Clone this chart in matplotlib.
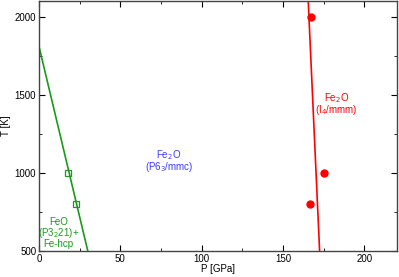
import matplotlib
matplotlib.use("Agg")
import matplotlib.pyplot as plt
from matplotlib.ticker import MultipleLocator

plt.rcParams['font.family'] = ['Liberation Sans', 'DejaVu Sans']

# phase boundaries (P [GPa], T [K])
feo_line_p = [0, 30]
feo_line_t = [1810, 500]
feo_pts_p = [18, 23]
feo_pts_t = [1000, 800]

fe2o_line_p = [165.5, 172.5]
fe2o_line_t = [2100, 500]
fe2o_pts_p = [167.5, 175.5, 166.5]
fe2o_pts_t = [2000, 1000, 800]

green = '#1a9a1a'
red = '#ff0000'
blue = '#3b3bff'

fig = plt.figure(figsize=(3.99, 2.77), dpi=100)
ax = fig.add_axes([0.0977, 0.094, 0.897, 0.902])

ax.plot(feo_line_p, feo_line_t, color=green, lw=1.2)
ax.plot(feo_pts_p, feo_pts_t, ls='none', marker='s', ms=5, mfc='none', mec=green, mew=0.9)
ax.plot(fe2o_line_p, fe2o_line_t, color=red, lw=1.2)
ax.plot(fe2o_pts_p, fe2o_pts_t, ls='none', marker='o', ms=5, color=red)

ax.text(80, 1075, 'Fe$_2$O\n(P6$_3$/mmc)', color=blue, fontsize=7, ha='center', va='center', linespacing=0.85)
ax.text(183, 1440, 'Fe$_2$O\n(I$_4$/mmm)', color=red, fontsize=7, ha='center', va='center', linespacing=0.85)
ax.text(12, 615, 'FeO\n(P3$_2$21)+\nFe-hcp', color=green, fontsize=7, ha='center', va='center', linespacing=0.85)

ax.set_xlim(0, 220)
ax.set_ylim(500, 2100)
ax.xaxis.set_major_locator(MultipleLocator(50))
ax.xaxis.set_minor_locator(MultipleLocator(25))
ax.yaxis.set_major_locator(MultipleLocator(500))
ax.yaxis.set_minor_locator(MultipleLocator(250))
ax.tick_params(which='both', direction='in', top=True, right=True, labelsize=7, pad=2)
ax.tick_params(which='major', length=4)
ax.tick_params(which='minor', length=2)
for s in ax.spines.values():
    s.set_linewidth(1.0)
    s.set_color('#444444')

ax.set_xlabel('P [GPa]', fontsize=7, labelpad=0)
ax.set_ylabel('T [K]', fontsize=7, labelpad=3)

fig.savefig('out.png', dpi=100)
